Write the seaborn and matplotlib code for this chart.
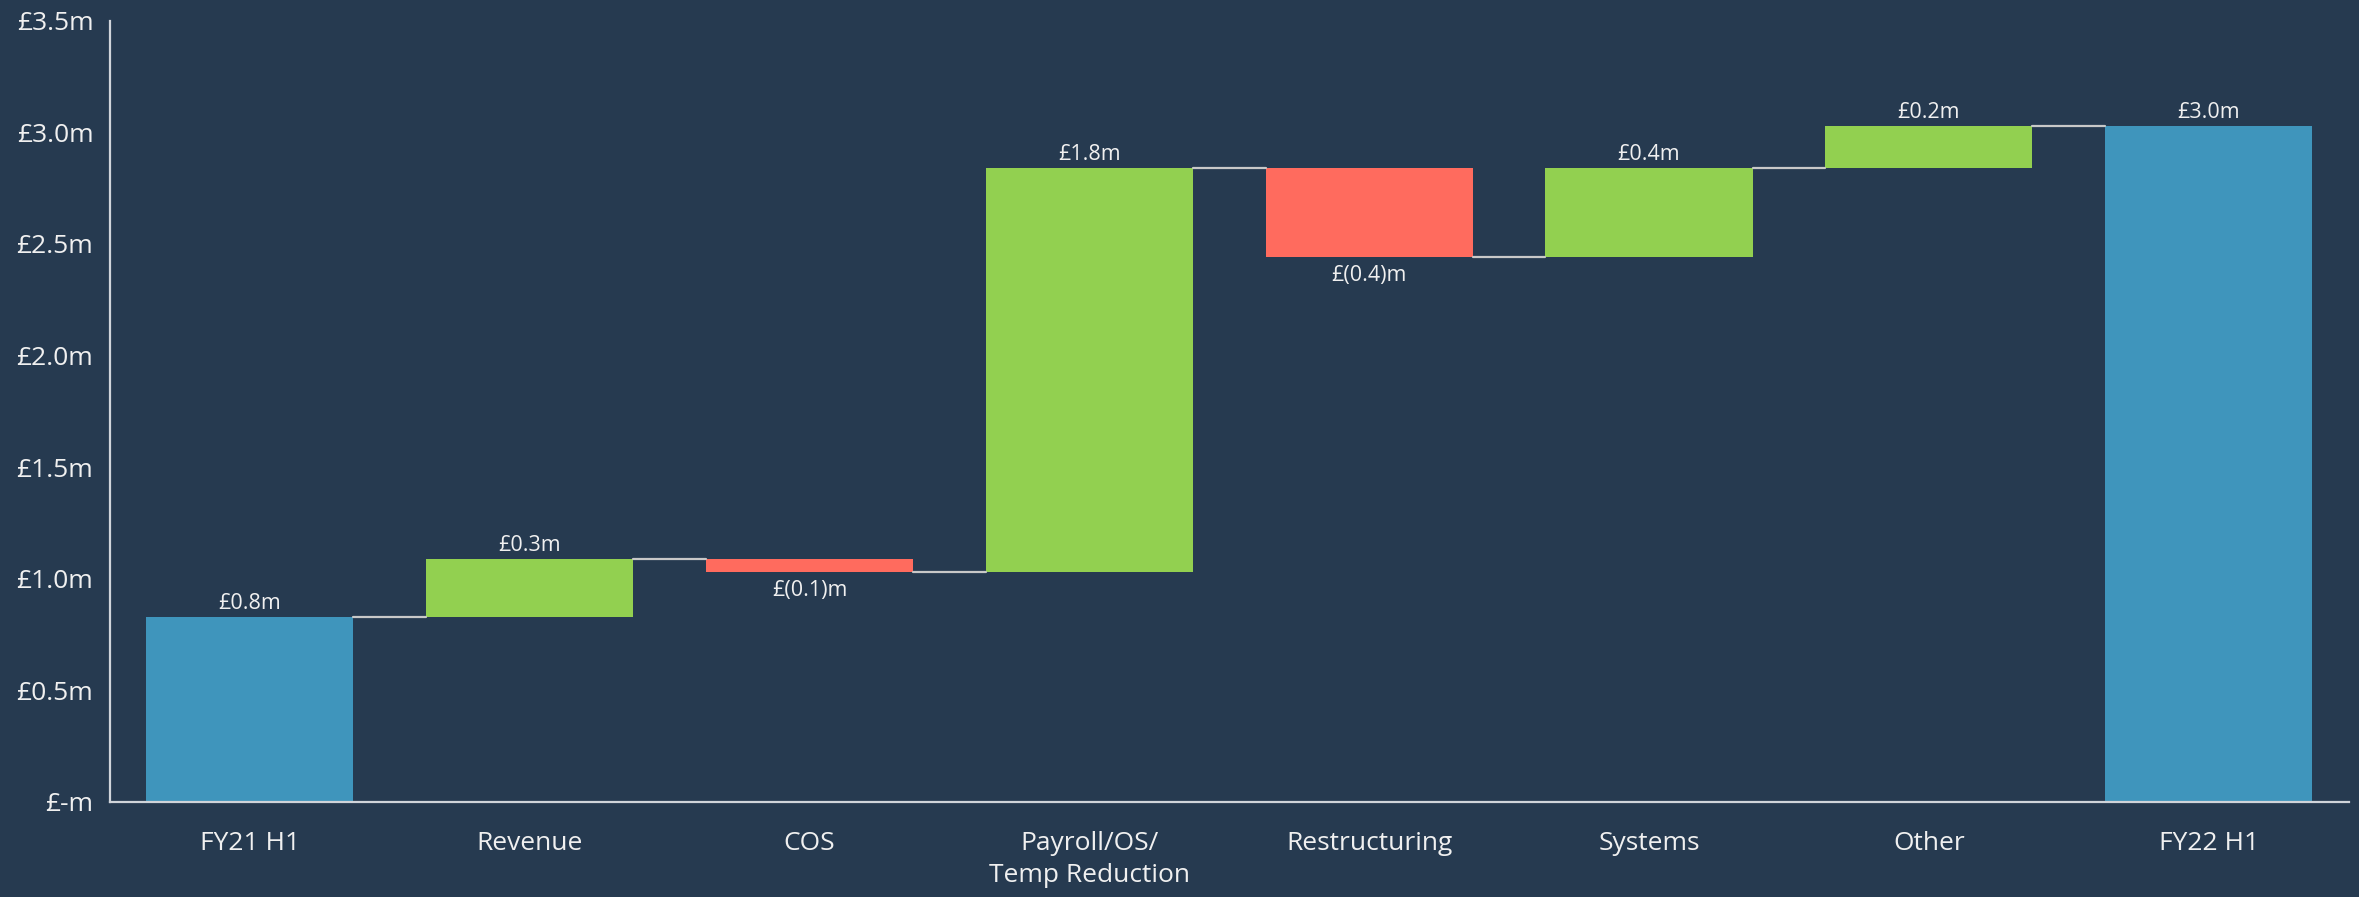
import matplotlib
matplotlib.use("Agg")
import matplotlib.pyplot as plt
import seaborn as sns
import numpy as np

categories = ["FY21 H1", "Revenue", "COS", "Payroll/OS/\nTemp Reduction",
              "Restructuring", "Systems", "Other", "FY22 H1"]
changes = [0.83, 0.26, -0.06, 1.81, -0.40, 0.40, 0.19, 3.03]
kinds = ["total", "delta", "delta", "delta", "delta", "delta", "delta", "total"]
bar_labels = ["£0.8m", "£0.3m", "£(0.1)m", "£1.8m", "£(0.4)m", "£0.4m", "£0.2m", "£3.0m"]
y_ticks = [0.0, 0.5, 1.0, 1.5, 2.0, 2.5, 3.0, 3.5]

BG = "#263a50"
BLUE = "#3f95bc"
GREEN = "#92d050"
RED = "#ff6b5e"
TXT = "#f0f0f0"
LINE = "#c8c8c8"

# waterfall geometry
bottoms, heights, ends = [], [], []
running = 0.0
for c, k in zip(changes, kinds):
    if k == "total":
        bottoms.append(0.0); heights.append(c); running = c
    else:
        lo = min(running, running + c)
        bottoms.append(lo); heights.append(abs(c)); running += c
    ends.append(running)

colors = [BLUE if k == "total" else (GREEN if c >= 0 else RED) for c, k in zip(changes, kinds)]

sns.set_theme(style="white")
plt.rcParams["font.family"] = ["Open Sans", "DejaVu Sans"]

fig = plt.figure(figsize=(23.59, 8.97), dpi=100, facecolor=BG)
ax = fig.add_axes([0.0466, 0.106, 0.949, 0.871])
ax.set_facecolor(BG)

W = 0.74
sns.barplot(x=list(range(len(categories))), y=heights, bottom=bottoms, color=BLUE,
            width=W, errorbar=None, ax=ax, native_scale=False, linewidth=0)
for p, col in zip(ax.patches, colors):
    p.set_facecolor(col)
    p.set_edgecolor(col)

# connectors
for i in range(len(categories) - 1):
    ax.plot([i + W / 2, i + 1 - W / 2], [ends[i], ends[i]], color=LINE, lw=1.6, zorder=3)

# labels
for i, (b, h, c, k, lab) in enumerate(zip(bottoms, heights, changes, kinds, bar_labels)):
    if k == "delta" and c < 0:
        ax.text(i, b - 0.035, lab, ha="center", va="top", color=TXT, fontsize=15.5)
    else:
        ax.text(i, b + h + 0.012, lab, ha="center", va="bottom", color=TXT, fontsize=15.5)

ax.set_xlim(-0.5, len(categories) - 0.5)
ax.set_ylim(0, 3.5)
ax.set_yticks(y_ticks)
ax.set_yticklabels(["£-m" if v == 0 else f"£{v:.1f}m" for v in y_ticks])
ax.set_xticks(range(len(categories)))
ax.set_xticklabels(categories, linespacing=1.35)
ax.tick_params(axis="both", length=0, colors=TXT, labelsize=19)
ax.tick_params(axis="y", pad=12)
ax.tick_params(axis="x", pad=21)
for s in ["top", "right"]:
    ax.spines[s].set_visible(False)
for s in ["left", "bottom"]:
    ax.spines[s].set_color("#d0d4da")
    ax.spines[s].set_linewidth(1.6)
ax.set_xlabel("")
ax.set_ylabel("")

fig.savefig("out.png", dpi=100, facecolor=BG)
